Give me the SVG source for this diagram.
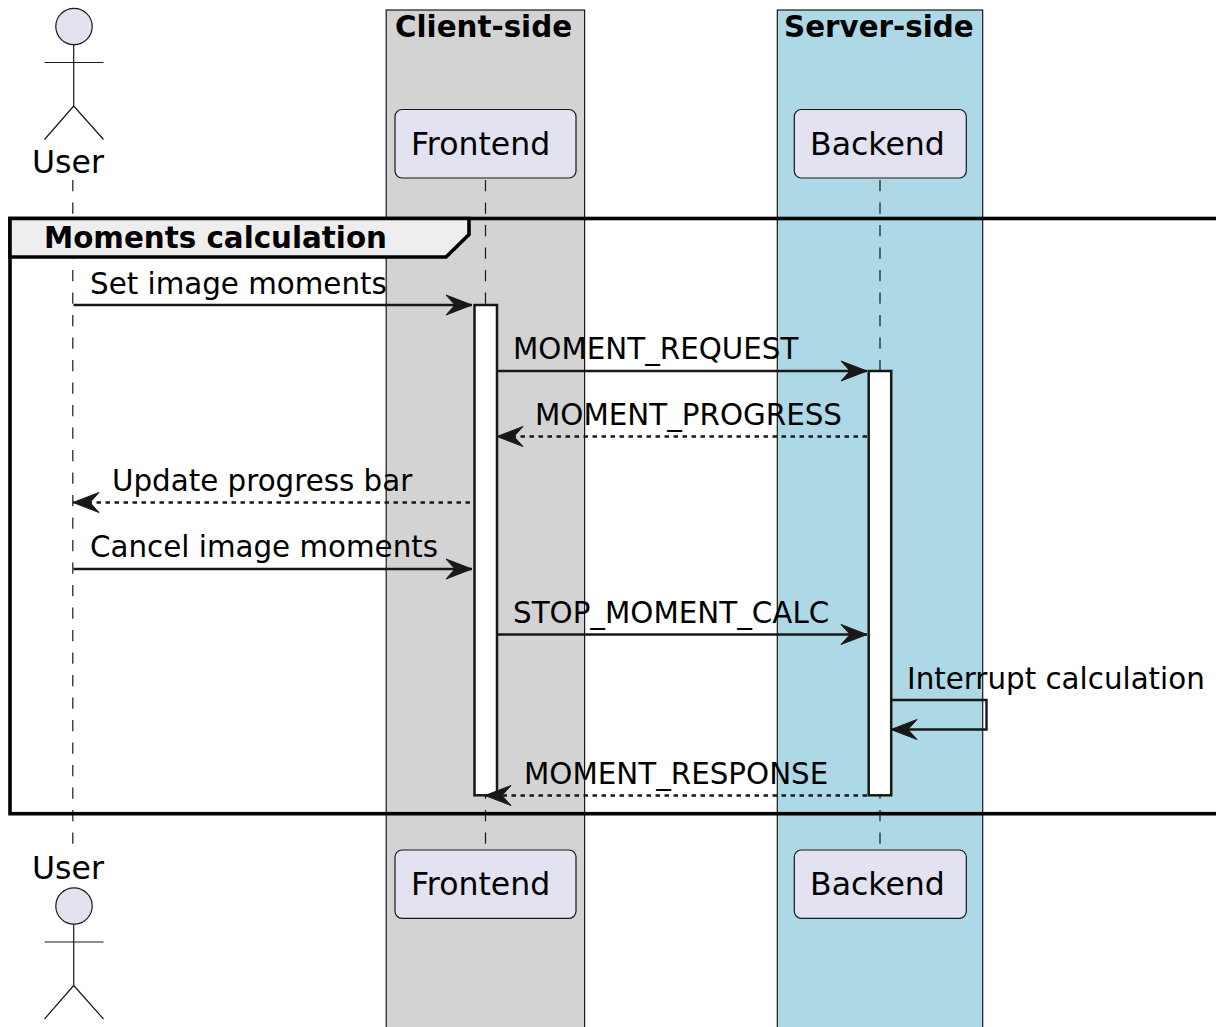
<svg xmlns="http://www.w3.org/2000/svg" width="1216" height="1027" viewBox="0 0 1216 1027">
<defs>
<marker id="arrow" markerUnits="userSpaceOnUse" markerWidth="30" markerHeight="24" refX="26" refY="10" orient="auto" viewBox="0 0 30 24" overflow="visible">
<path d="M0,0 L26,10 L0,20 L9,10 Z" fill="#181818" stroke="#181818" stroke-width="1"/>
</marker>
<g id="actor-figure">
<circle cx="0" cy="0" r="18.200" fill="#E2E2F0" stroke="#181818" stroke-width="1.200"/>
<path d="M-0.300,18 V79.500 M-29.500,36 H29.500 M-0.300,79.500 L-29.500,113 M-0.300,79.500 L29.500,113" fill="none" stroke="#181818" stroke-width="1.200"/>
</g>
</defs>
<style>
text{font-family:"DejaVu Sans",sans-serif;fill:#000}
.part{font-size:31.550px}
.msg{font-size:29.350px}
.bold{font-size:29.350px;font-weight:700}
.box{fill:#E2E2F0;stroke:#181818;stroke-width:1.200}
.band{stroke:#181818;stroke-width:1.200}
.life{stroke:#181818;stroke-width:1.200;stroke-dasharray:11.250 11.250;fill:none}
.act{fill:#fff;stroke:#181818;stroke-width:2.500}
.line{stroke:#181818;stroke-width:2.400;fill:none;marker-end:url(#arrow)}
.dash{stroke-dasharray:4.500 4.500}
</style>
<g id="band-client"><rect class="band" x="386.200" y="10" width="198.400" height="1030" fill="#D3D3D3"/><text class="bold" x="395" y="37">Client-side</text></g>
<g id="band-server"><rect class="band" x="777.300" y="10" width="205.400" height="1030" fill="#ADD8E6"/><text class="bold" x="784" y="37">Server-side</text></g>
<g id="lifelines">
<path class="life" d="M72.800,180 V848"/>
<path class="life" d="M485.500,180 V848"/>
<path class="life" d="M880,180 V848"/>
</g>
<g id="group-moments">
<rect x="10" y="218.500" width="1230" height="595.200" fill="none" stroke="#000" stroke-width="3.600"/>
<path d="M10,218.500 H469 V234.500 L446,257 H10 Z" fill="#EEEEEE" stroke="#000" stroke-width="3.600"/>
<text class="bold" x="44" y="248">Moments calculation</text>
</g>
<g id="act-frontend"><rect class="act" x="474.500" y="305" width="22.500" height="490.300"/></g>
<g id="act-backend"><rect class="act" x="868.700" y="371" width="22.500" height="424.300"/></g>
<g id="connectors">
<path class="line" d="M73.500,305 H472"/>
<path class="line" d="M497,371 H867"/>
<path class="line dash" d="M867,436.500 H497"/>
<path class="line dash" d="M470,502.500 H73"/>
<path class="line" d="M73.500,569 H472"/>
<path class="line" d="M497,634.500 H867"/>
<path class="line" d="M891,700 H986.500 V729.500 H891"/>
<path class="line dash" d="M867,795.500 H485"/>
</g>
<g id="labels">
<text class="msg" x="90" y="294">Set image moments</text>
<text class="msg" x="513" y="359">MOMENT_REQUEST</text>
<text class="msg" x="535" y="425">MOMENT_PROGRESS</text>
<text class="msg" x="112" y="491">Update progress bar</text>
<text class="msg" x="90" y="557">Cancel image moments</text>
<text class="msg" x="513" y="623">STOP_MOMENT_CALC</text>
<text class="msg" x="907" y="689">Interrupt calculation</text>
<text class="msg" x="524" y="784">MOMENT_RESPONSE</text>
</g>
<g id="user-top"><use href="#actor-figure" x="74" y="26.500"/><text class="part" x="32" y="173">User</text></g>
<g id="user-bottom"><text class="part" x="32" y="879">User</text><use href="#actor-figure" x="74" y="906"/></g>
<g id="frontend-top"><rect class="box" x="395" y="109.500" width="181" height="68.500" rx="7"/><text class="part" x="411" y="155">Frontend</text></g>
<g id="backend-top"><rect class="box" x="794.300" y="109.500" width="172" height="68.500" rx="7"/><text class="part" x="810" y="155">Backend</text></g>
<g id="frontend-bottom"><rect class="box" x="395" y="850" width="181" height="68.300" rx="7"/><text class="part" x="411" y="895">Frontend</text></g>
<g id="backend-bottom"><rect class="box" x="794.300" y="850" width="172" height="68.300" rx="7"/><text class="part" x="810" y="895">Backend</text></g>
</svg>
